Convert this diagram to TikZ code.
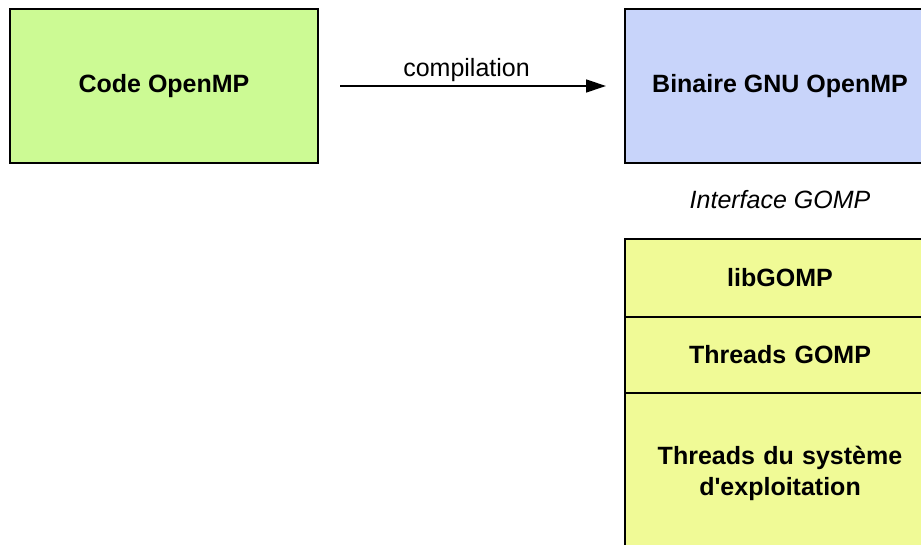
\documentclass[tikz,border=0pt]{standalone}
\usepackage{fontspec}
\setmainfont{Liberation Sans}
\usepackage{tikz}
\usetikzlibrary{positioning, arrows.meta}
\definecolor{codegreen}{RGB}{204,250,148}
\definecolor{binblue}{RGB}{200,212,250}
\definecolor{libyellow}{RGB}{240,250,150}
\tikzstyle{module} = [rectangle, draw=black, line width=1.5pt, outer sep=0pt, minimum width=308pt, minimum height=154pt, text centered, font=\bfseries\fontsize{25}{31}\selectfont]
\tikzstyle{layer} = [module, fill=libyellow, minimum width=310pt, text width=290pt, align=center]

\begin{document}
\begin{tikzpicture}[x=1pt, y=-1pt, node distance=0pt]
        \clip (0,0) rectangle (921,545);
        \fill[white] (0,0) rectangle (921,545);

        \node[module, fill=codegreen] (code) at (164,86) {Code OpenMP};
        \node[module, fill=binblue, minimum width=310pt] (binaire) at (780,86) {Binaire GNU OpenMP};

        \node[font=\itshape\fontsize{25}{30}\selectfont] (iface) at (780,200) {Interface GOMP};

        \node[layer, minimum height=78pt, anchor=north] (libgomp) at (780,239) {libGOMP};
        \node[layer, minimum height=76pt, below=of libgomp] (threadsGomp) {Threads GOMP};
        \node[layer, minimum height=160pt, below=of threadsGomp] (threadsOs) {Threads du système\\d\textquotesingle exploitation};

        \draw[-{Triangle[length=20pt, width=13pt]}, line width=1.3pt, shorten <=22pt, shorten >=19pt] (code) -- node[above=0pt, xshift=-5pt, font=\fontsize{25}{30}\selectfont] (compLabel) {compilation} (binaire);

    \end{tikzpicture}
\end{document}
